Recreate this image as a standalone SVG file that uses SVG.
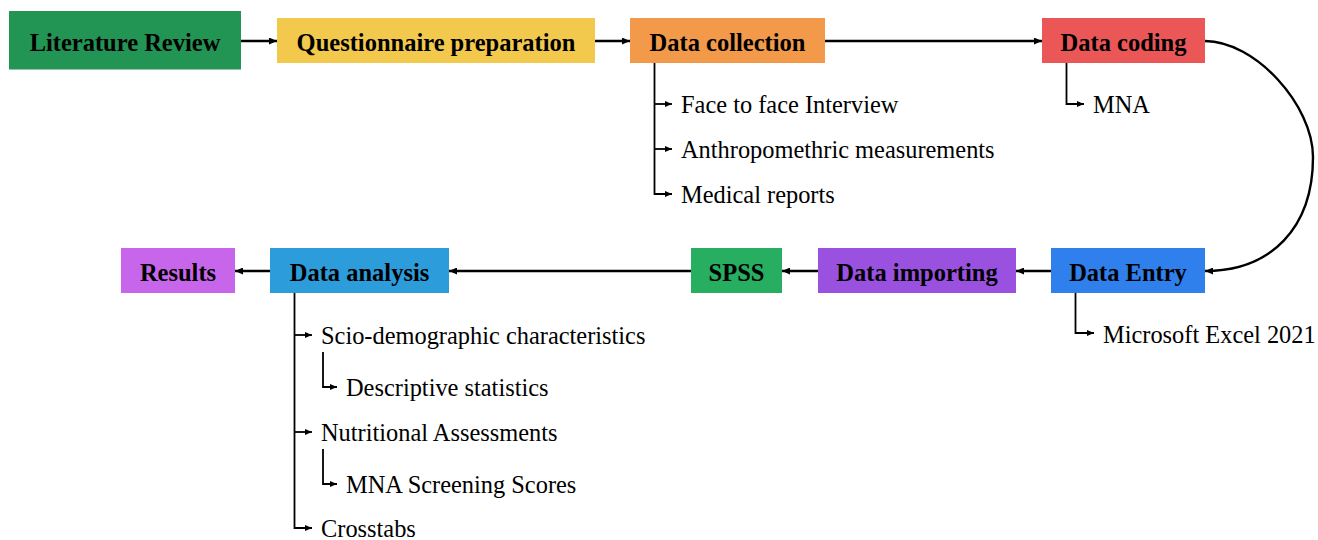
<svg xmlns="http://www.w3.org/2000/svg" width="1318" height="540" viewBox="0 0 1318 540">
  <defs>
    <style>
      .title { font-family: "Liberation Serif", "Times New Roman", serif; font-weight: bold; font-size: 24.5px; fill: #000; text-anchor: middle; }
      .item { font-family: "Liberation Serif", "Times New Roman", serif; font-size: 24.4px; fill: #000; }
      .flow { fill: none; stroke: #000; stroke-width: 2.4; }
      .branch { fill: none; stroke: #000; stroke-width: 1.8; }
    </style>
    <marker id="head" markerUnits="userSpaceOnUse" viewBox="0 0 8 7" refX="8" refY="3.5" markerWidth="8" markerHeight="7" orient="auto">
      <path d="M0,0 L8,3.5 L0,7 z" fill="#000"/>
    </marker>
    <marker id="headSmall" markerUnits="userSpaceOnUse" viewBox="0 0 7 6" refX="7" refY="3" markerWidth="7" markerHeight="6" orient="auto">
      <path d="M0,0 L7,3 L0,6 z" fill="#000"/>
    </marker>
  </defs>
  <rect width="1318" height="540" fill="#fff"/>

  <!-- connectors -->
  <g id="connectors">
    <!-- top row -->
    <path class="flow" d="M241,41 H277" marker-end="url(#head)"/>
    <path class="flow" d="M595,41 H630" marker-end="url(#head)"/>
    <path class="flow" d="M825,41 H1042" marker-end="url(#head)"/>
    <!-- loop from coding down to entry -->
    <path class="flow" d="M1205,41 C1255,41 1313,105 1313,157 C1313,228 1271,271 1205,271" marker-end="url(#head)"/>
    <!-- bottom row, right to left -->
    <path class="flow" d="M1051,271 H1016" marker-end="url(#head)"/>
    <path class="flow" d="M818,271 H782" marker-end="url(#head)"/>
    <path class="flow" d="M691,271 H449" marker-end="url(#head)"/>
    <path class="flow" d="M270,271 H235" marker-end="url(#head)"/>

    <!-- data collection branches -->
    <path class="branch" d="M654.5,63 V194 H672" marker-end="url(#headSmall)"/>
    <path class="branch" d="M654.5,104 H672" marker-end="url(#headSmall)"/>
    <path class="branch" d="M654.5,149 H672" marker-end="url(#headSmall)"/>
    <!-- data coding branch -->
    <path class="branch" d="M1066.5,63 V104 H1084" marker-end="url(#headSmall)"/>
    <!-- data entry branch -->
    <path class="branch" d="M1075.5,293 V333 H1094" marker-end="url(#headSmall)"/>
    <!-- data analysis branches -->
    <path class="branch" d="M294.5,293 V528 H312" marker-end="url(#headSmall)"/>
    <path class="branch" d="M294.5,335 H312" marker-end="url(#headSmall)"/>
    <path class="branch" d="M294.5,432 H312" marker-end="url(#headSmall)"/>
    <path class="branch" d="M323,352 V387 H337" marker-end="url(#headSmall)"/>
    <path class="branch" d="M323,449 V484 H337" marker-end="url(#headSmall)"/>
  </g>

  <!-- top row nodes -->
  <g id="literature-review">
    <rect x="9" y="11" width="232" height="58.5" fill="#229454"/>
    <text class="title" x="125" y="51">Literature Review</text>
  </g>
  <g id="questionnaire-preparation">
    <rect x="277" y="18" width="318" height="45" fill="#F2C94C"/>
    <text class="title" x="436" y="51">Questionnaire preparation</text>
  </g>
  <g id="data-collection">
    <rect x="630" y="18" width="195" height="45" fill="#F2994A"/>
    <text class="title" x="727.5" y="51">Data collection</text>
    <text class="item" x="681" y="112.5">Face to face Interview</text>
    <text class="item" x="681" y="158">Anthropomethric measurements</text>
    <text class="item" x="681" y="203">Medical reports</text>
  </g>
  <g id="data-coding">
    <rect x="1042" y="18" width="163" height="45" fill="#EB5757"/>
    <text class="title" x="1123.5" y="51">Data coding</text>
    <text class="item" x="1093" y="113">MNA</text>
  </g>

  <!-- bottom row nodes -->
  <g id="data-entry">
    <rect x="1051" y="248" width="154" height="45" fill="#2F80ED"/>
    <text class="title" x="1128" y="281">Data Entry</text>
    <text class="item" x="1103" y="343">Microsoft Excel 2021</text>
  </g>
  <g id="data-importing">
    <rect x="818" y="248" width="198" height="45" fill="#9B51E0"/>
    <text class="title" x="917" y="281">Data importing</text>
  </g>
  <g id="spss">
    <rect x="691" y="248" width="91" height="45" fill="#27AE60"/>
    <text class="title" x="736.5" y="281">SPSS</text>
  </g>
  <g id="data-analysis">
    <rect x="270" y="248" width="179" height="45" fill="#2D9CDB"/>
    <text class="title" x="359.5" y="281">Data analysis</text>
    <text class="item" x="321" y="344">Scio-demographic characteristics</text>
    <text class="item" x="346" y="396">Descriptive statistics</text>
    <text class="item" x="321" y="441">Nutritional Assessments</text>
    <text class="item" x="346" y="492.5">MNA Screening Scores</text>
    <text class="item" x="321" y="537">Crosstabs</text>
  </g>
  <g id="results">
    <rect x="121" y="248" width="114" height="45" fill="#C766EA"/>
    <text class="title" x="178" y="281">Results</text>
  </g>
</svg>
